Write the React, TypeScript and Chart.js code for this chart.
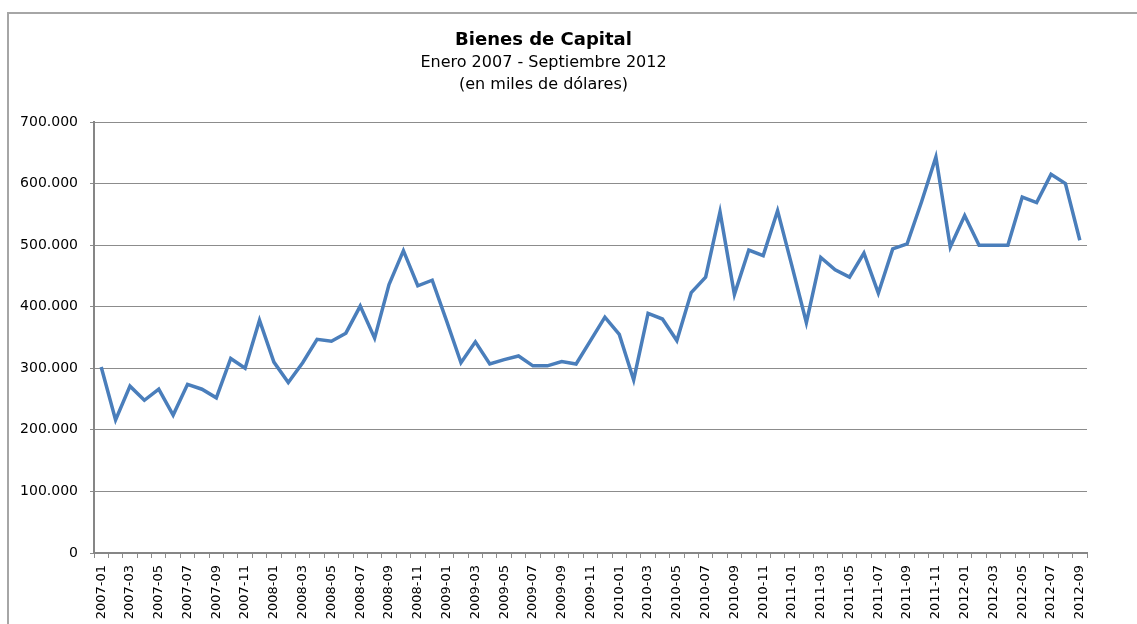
import React, { useEffect, useRef } from 'react';
import { Chart, registerables } from 'chart.js';

Chart.register(...registerables);

const titleText = 'Bienes de Capital';
const subtitleLines = ['Enero 2007 - Septiembre 2012', '(en miles de dólares)'];

const categories = [
  '2007-01', '2007-02', '2007-03', '2007-04', '2007-05', '2007-06', '2007-07', '2007-08', '2007-09', '2007-10', '2007-11', '2007-12',
  '2008-01', '2008-02', '2008-03', '2008-04', '2008-05', '2008-06', '2008-07', '2008-08', '2008-09', '2008-10', '2008-11', '2008-12',
  '2009-01', '2009-02', '2009-03', '2009-04', '2009-05', '2009-06', '2009-07', '2009-08', '2009-09', '2009-10', '2009-11', '2009-12',
  '2010-01', '2010-02', '2010-03', '2010-04', '2010-05', '2010-06', '2010-07', '2010-08', '2010-09', '2010-10', '2010-11', '2010-12',
  '2011-01', '2011-02', '2011-03', '2011-04', '2011-05', '2011-06', '2011-07', '2011-08', '2011-09', '2011-10', '2011-11', '2011-12',
  '2012-01', '2012-02', '2012-03', '2012-04', '2012-05', '2012-06', '2012-07', '2012-08', '2012-09',
];

const capitalGoods = [
  302000, 216000, 271000, 248000, 266000, 224000, 274000, 266000, 252000, 316000, 300000, 378000,
  310000, 277000, 309000, 347000, 344000, 357000, 401000, 349000, 436000, 491000, 434000, 443000,
  377000, 309000, 343000, 307000, 314000, 320000, 304000, 304000, 311000, 307000, 345000, 383000,
  355000, 281000, 389000, 380000, 345000, 423000, 448000, 554000, 420000, 492000, 483000, 556000,
  466000, 374000, 480000, 460000, 448000, 487000, 422000, 494000, 502000, 570000, 643000, 497000,
  548000, 500000, 500000, 500000, 578000, 569000, 615000, 600000, 508000,
];

const yMin = 0;
const yMax = 700000;
const yStep = 100000;

const formatThousands = (v: number) =>
  String(Math.round(v)).replace(/\B(?=(\d{3})+(?!\d))/g, '.');

const FONT = "'DejaVu Sans', sans-serif";

export default function App() {
  const canvasRef = useRef<HTMLCanvasElement | null>(null);

  useEffect(() => {
    if (!canvasRef.current) return;
    const chart = new Chart(canvasRef.current, {
      type: 'line',
      data: {
        labels: categories,
        datasets: [
          {
            label: 'Bienes de Capital',
            data: capitalGoods,
            borderColor: '#4a7ebb',
            backgroundColor: '#4a7ebb',
            borderWidth: 3.5,
            borderJoinStyle: 'miter',
            tension: 0,
            pointRadius: 0,
            pointHoverRadius: 0,
            fill: false,
          },
        ],
      },
      options: {
        animation: false,
        responsive: false,
        maintainAspectRatio: false,
        layout: { padding: { left: 0, right: 67, top: 0, bottom: 0 } },
        plugins: {
          legend: { display: false },
          tooltip: { enabled: false },
          title: {
            display: true,
            text: titleText,
            color: '#000',
            font: { family: FONT, size: 18, weight: 'bold', lineHeight: 1.2 },
            padding: { top: 30, bottom: 0 },
          },
          subtitle: {
            display: true,
            text: subtitleLines,
            color: '#000',
            font: { family: FONT, size: 16, weight: 'normal', lineHeight: 1.4 },
            padding: { top: 0, bottom: 25.6 },
          },
        },
        scales: {
          x: {
            type: 'category',
            offset: true,
            grid: {
              display: true,
              offset: true,
              drawOnChartArea: false,
              drawTicks: true,
              tickLength: 5,
              color: '#8c8c8c',
              lineWidth: 1,
            },
            border: { display: true, color: '#868686', width: 2 },
            ticks: {
              autoSkip: false,
              maxRotation: 90,
              minRotation: 90,
              padding: 7,
              color: '#000',
              font: { family: FONT, size: 13 },
              callback: (_v: any, idx: number) => (idx % 2 === 0 ? categories[idx] : ''),
            },
            afterFit: (scale: any) => {
              scale.height = 71;
            },
          },
          y: {
            min: yMin,
            max: yMax,
            grid: {
              display: true,
              drawTicks: true,
              tickLength: 4,
              color: '#8c8c8c',
              lineWidth: 1,
            },
            border: { display: true, color: '#868686', width: 2 },
            ticks: {
              stepSize: yStep,
              padding: 12,
              color: '#000',
              font: { family: FONT, size: 14 },
              callback: (v: any) => formatThousands(Number(v)),
            },
            afterFit: (scale: any) => {
              scale.width = 94;
            },
          },
        },
      },
    });
    return () => chart.destroy();
  }, []);

  return (
    <div
      style={{
        position: 'fixed',
        left: 0,
        top: 0,
        width: 1137,
        height: 624,
        overflow: 'hidden',
        background: '#fff',
      }}
    >
      <div
        style={{
          position: 'absolute',
          left: 7,
          top: 12,
          width: 1200,
          height: 700,
          borderLeft: '2px solid #a6a6a6',
          borderTop: '2px solid #a6a6a6',
        }}
      />
      <canvas
        ref={canvasRef}
        width={1154}
        height={624}
        style={{ position: 'absolute', left: 0, top: 0, width: 1154, height: 624 }}
      />
    </div>
  );
}
